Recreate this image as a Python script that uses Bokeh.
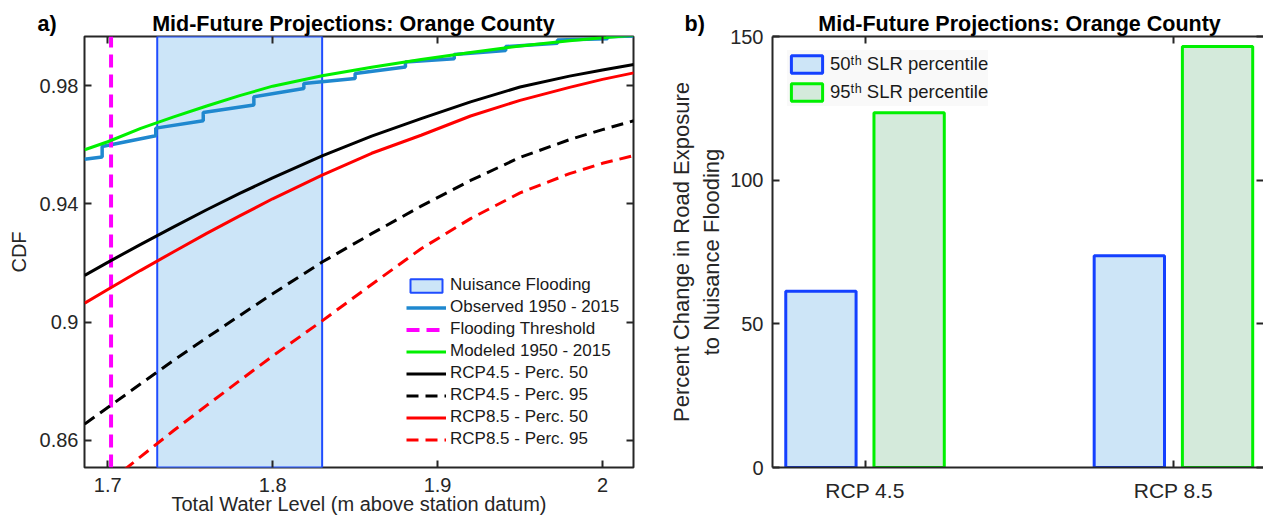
from bokeh.plotting import figure
from bokeh.models import (Range1d, FixedTicker, LinearAxis, Legend, LegendItem,
                          ColumnDataSource, CustomLabelingPolicy)
from bokeh.layouts import row
from bokeh.transform import dodge
from bokeh.embed import file_html
from bokeh.resources import INLINE

FONT = "Liberation Sans"
AX = "#262626"

# ---------------- Panel a) data ----------------
water_level = [1.686, 1.70, 1.72, 1.74, 1.76, 1.78, 1.80, 1.83, 1.86, 1.89,
               1.92, 1.95, 1.98, 2.00, 2.019]
modeled_1950_2015 = [0.9583, 0.9610, 0.9655, 0.9694, 0.9731, 0.9766, 0.9798,
                     0.9833, 0.9862, 0.9888, 0.9912, 0.9934, 0.9952, 0.9962, 0.9970]
rcp45_p50 = [0.9158, 0.9202, 0.9263, 0.9322, 0.9380, 0.9435, 0.9488, 0.9562,
             0.9629, 0.9688, 0.9745, 0.9795, 0.9832, 0.9853, 0.9871]
rcp45_p95 = [0.8655, 0.8711, 0.8791, 0.8871, 0.8947, 0.9022, 0.9096, 0.9203,
             0.9299, 0.9392, 0.9479, 0.9557, 0.9617, 0.9651, 0.9681]
rcp85_p50 = [0.9064, 0.9110, 0.9175, 0.9238, 0.9300, 0.9359, 0.9417, 0.9497,
             0.9571, 0.9632, 0.9697, 0.9750, 0.9794, 0.9821, 0.9843]
rcp85_p95_level = [1.71, 1.72, 1.74, 1.76, 1.78, 1.80, 1.83, 1.86, 1.89,
                   1.92, 1.95, 1.98, 2.00, 2.019]
rcp85_p95 = [0.8500, 0.8545, 0.8633, 0.8718, 0.8802, 0.8885, 0.9004, 0.9127,
             0.9248, 0.9350, 0.9437, 0.9502, 0.9537, 0.9563]
observed_level = [1.6859, 1.6966, 1.6966, 1.7291, 1.7291, 1.7579, 1.7579,
                  1.7886, 1.7886, 1.8189, 1.8189, 1.8500, 1.8500, 1.8805,
                  1.8805, 1.9101, 1.9101, 1.9413, 1.9413, 1.9727, 1.9727,
                  2.0030, 2.0030, 2.0188]
observed_cdf = [0.9551, 0.9558, 0.9594, 0.9630, 0.9656, 0.9681, 0.9709,
                0.9734, 0.9762, 0.9790, 0.9807, 0.9824, 0.9841, 0.9863,
                0.9880, 0.9891, 0.9905, 0.9919, 0.9932, 0.9943, 0.9954,
                0.9958, 0.9965, 0.9968]
flood_threshold = 1.702
nuisance_band = [1.73, 1.83]
x_limits = [1.6859, 2.0188]
y_limits = [0.8508, 0.9966]
cdf_ticks = [0.86, 0.9, 0.94, 0.98]
cdf_tick_labels = ["0.86", "0.9", "0.94", "0.98"]
level_ticks = [1.7, 1.8, 1.9, 2]
level_tick_labels = ["1.7", "1.8", "1.9", "2"]

# ---------------- Panel b) data ----------------
scenarios = ["RCP 4.5", "RCP 8.5"]
scenario_pos = [1, 2]
slr_p50 = [61.3, 73.7]
slr_p95 = [123.5, 146.5]
pct_ticks = [0, 50, 100, 150]
pct_tick_labels = ["0", "50", "100", "150"]
scenario_limits = [0.7, 2.292]

TITLE = "Mid-Future Projections: Orange County"
NBSP = "\u00a0"

NO_LABELS = "for (const i of indices) { indices.unset(i) }\nreturn indices"


def style_axis(ax, size="20px", show_labels=True, line=False):
    ax.axis_line_color = AX if line else None
    ax.axis_line_width = 2
    ax.major_tick_line_color = AX
    ax.major_tick_line_width = 2
    ax.major_tick_in = 7
    ax.major_tick_out = 0
    ax.minor_tick_line_color = None
    ax.major_label_text_font = FONT
    ax.major_label_text_color = AX
    ax.major_label_text_font_size = size if show_labels else "0px"
    if not show_labels:
        ax.major_label_standoff = 0
        ax.major_label_policy = CustomLabelingPolicy(code=NO_LABELS)
    ax.axis_label_text_font = FONT
    ax.axis_label_text_font_style = "normal"
    ax.axis_label_text_color = AX


def style_title(p, letter, n_space, offset):
    p.title.text = letter + NBSP * n_space + TITLE
    p.title.align = "left"
    p.title.offset = offset
    p.title.text_font = FONT
    p.title.text_font_style = "bold"
    p.title.text_font_size = "21.5px"
    p.title.text_color = "#000000"
    p.title.standoff = 1


# ================= Panel a =================
p1 = figure(width=653, height=522, x_range=Range1d(*x_limits),
            y_range=Range1d(*y_limits), output_backend="svg",
            toolbar_location=None, min_border_left=84, min_border_right=20,
            min_border_top=32, min_border_bottom=55)
style_title(p1, "a)", 16, -47)
p1.xgrid.grid_line_color = None
p1.ygrid.grid_line_color = None
p1.outline_line_color = AX
p1.outline_line_width = 2
p1.background_fill_color = "white"

xa = p1.xaxis[0]
style_axis(xa)
xa.ticker = FixedTicker(ticks=level_ticks)
xa.major_label_overrides = dict(zip(level_ticks, level_tick_labels))
xa.major_label_standoff = 10
xa.axis_label = "Total Water Level (m above station datum)"
xa.axis_label_text_font_size = "20px"
xa.axis_label_standoff = -2

ya = p1.yaxis[0]
style_axis(ya)
ya.ticker = FixedTicker(ticks=cdf_ticks)
ya.major_label_overrides = dict(zip(cdf_ticks, cdf_tick_labels))
ya.major_label_standoff = 6
ya.axis_label = "CDF"
ya.axis_label_text_font_size = "20px"
ya.axis_label_standoff = 7

top1 = LinearAxis(ticker=FixedTicker(ticks=level_ticks))
style_axis(top1, show_labels=False)
p1.add_layout(top1, "above")
right1 = LinearAxis(ticker=FixedTicker(ticks=cdf_ticks))
style_axis(right1, show_labels=False)
p1.add_layout(right1, "right")

band = p1.quad(left=[nuisance_band[0]], right=[nuisance_band[1]],
               bottom=[y_limits[0]], top=[y_limits[1]],
               fill_color="#cce5f8", line_color="#1f4cff", line_width=2)
obs = p1.line(observed_level, observed_cdf, line_color="#1f88cf", line_width=3.5)
thr = p1.line([flood_threshold, flood_threshold], y_limits,
              line_color="#ff00ff", line_width=4, line_dash="13 7")
mod = p1.line(water_level, modeled_1950_2015, line_color="#00f000", line_width=3)
r45a = p1.line(water_level, rcp45_p50, line_color="black", line_width=3)
r45b = p1.line(water_level, rcp45_p95, line_color="black", line_width=3,
               line_dash="12 7")
r85a = p1.line(water_level, rcp85_p50, line_color="#ff0000", line_width=3)
r85b = p1.line(rcp85_p95_level, rcp85_p95, line_color="#ff0000", line_width=3,
               line_dash="12 7")

leg1 = Legend(items=[
    LegendItem(label="Nuisance Flooding", renderers=[band]),
    LegendItem(label="Observed 1950 - 2015", renderers=[obs]),
    LegendItem(label="Flooding Threshold", renderers=[thr]),
    LegendItem(label="Modeled 1950 - 2015", renderers=[mod]),
    LegendItem(label="RCP4.5 - Perc. 50", renderers=[r45a]),
    LegendItem(label="RCP4.5 - Perc. 95", renderers=[r45b]),
    LegendItem(label="RCP8.5 - Perc. 50", renderers=[r85a]),
    LegendItem(label="RCP8.5 - Perc. 95", renderers=[r85b]),
], location=(322, 16.7))
leg1.label_text_font = FONT
leg1.label_text_font_size = "17px"
leg1.label_text_color = "#1a1a1a"
leg1.glyph_width = 40
leg1.glyph_height = 17
leg1.label_height = 22
leg1.spacing = 0
leg1.padding = 0
leg1.margin = 0
leg1.label_standoff = 4
leg1.background_fill_color = "white"
leg1.background_fill_alpha = 1
leg1.border_line_color = None
p1.add_layout(leg1)

# ================= Panel b =================
p2 = figure(width=610, height=522, x_range=Range1d(*scenario_limits),
            y_range=Range1d(0, 150), output_backend="svg",
            toolbar_location=None, min_border_left=119, min_border_right=0,
            min_border_top=36, min_border_bottom=51)
style_title(p2, "b)", 19, -88)
p2.xgrid.grid_line_color = None
p2.ygrid.grid_line_color = None
p2.outline_line_color = None
p2.background_fill_color = "white"

xb = p2.xaxis[0]
style_axis(xb, size="21px", line=True)
xb.ticker = FixedTicker(ticks=scenario_pos)
xb.major_label_overrides = dict(zip(scenario_pos, scenarios))
xb.major_label_standoff = 11

yb = p2.yaxis[0]
style_axis(yb, line=True)
yb.ticker = FixedTicker(ticks=pct_ticks)
yb.major_label_overrides = dict(zip(pct_ticks, pct_tick_labels))
yb.major_label_standoff = 9
yb.axis_label = "Percent Change in Road Exposure\nto Nuisance Flooding"
yb.axis_label_text_font_size = "22px"
yb.axis_label_standoff = 3

top2 = LinearAxis(ticker=FixedTicker(ticks=scenario_pos))
style_axis(top2, show_labels=False, line=True)
p2.add_layout(top2, "above")
right2 = LinearAxis(ticker=FixedTicker(ticks=pct_ticks))
style_axis(right2, show_labels=False)
p2.add_layout(right2, "right")

src = ColumnDataSource(data=dict(x=scenario_pos, p50=slr_p50, p95=slr_p95))
b50 = p2.vbar(x=dodge("x", -0.143, range=p2.x_range), top="p50", width=0.228,
              source=src, fill_color="#cde5f7", line_color="#1440ff",
              line_width=3)
b95 = p2.vbar(x=dodge("x", 0.143, range=p2.x_range), top="p95", width=0.228,
              source=src, fill_color="#d4eadb", line_color="#00f000",
              line_width=3)

leg2 = Legend(items=[
    LegendItem(label="50\u1d57\u02b0 SLR percentile", renderers=[b50]),
    LegendItem(label="95\u1d57\u02b0 SLR percentile", renderers=[b95]),
], location=(15, 361.5))
leg2.label_text_font = FONT
leg2.label_text_font_size = "18.5px"
leg2.label_text_color = "#1a1a1a"
leg2.glyph_width = 39
leg2.glyph_height = 22
leg2.label_height = 28
leg2.spacing = 0
leg2.padding = 5
leg2.margin = 0
leg2.label_standoff = 4
leg2.background_fill_color = "#f9f9f9"
leg2.background_fill_alpha = 1
leg2.border_line_color = None
p2.add_layout(leg2)

layout = row(p1, p2)
open("out.html", "w").write(file_html(layout, INLINE, title="Mid-Future Projections"))
